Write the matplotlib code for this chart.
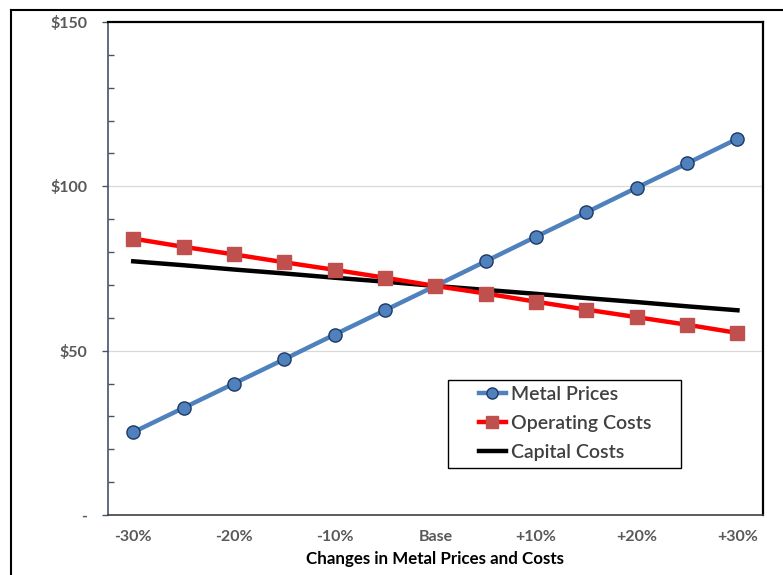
import numpy as np
import matplotlib
matplotlib.use('Agg')
import matplotlib.pyplot as plt
from matplotlib.lines import Line2D
from matplotlib.patches import Rectangle

categories = ['-30%', '-25%', '-20%', '-15%', '-10%', '-5%', 'Base',
              '+5%', '+10%', '+15%', '+20%', '+25%', '+30%']
metal_prices = [25.2, 32.6, 40.0, 47.4, 54.9, 62.3, 69.7, 77.2, 84.7, 92.1, 99.6, 107.0, 114.5]
operating_costs = [84.1, 81.6, 79.3, 76.9, 74.6, 72.2, 69.7, 67.4, 64.9, 62.5, 60.2, 57.9, 55.4]
capital_costs = [77.2, 76.0, 74.7, 73.5, 72.2, 71.0, 69.7, 68.5, 67.3, 66.0, 64.8, 63.5, 62.3]
y_ticks = [0, 50, 100, 150]
y_labels = ['-', '$50', '$100', '$150']

plt.rcParams['font.family'] = ['Lato', 'DejaVu Sans']

fig = plt.figure(figsize=(7.83, 5.75), dpi=100)
ax = fig.add_axes([0.138, 0.1043, 0.836, 0.8574])

x = np.arange(len(categories))
ax.plot(x, metal_prices, color='#4F81BD', lw=3.2, marker='o', ms=9.5,
        mfc='#4F81BD', mec='#1F3864', mew=1.0, label='Metal Prices', zorder=3)
ax.plot(x, operating_costs, color='#FF0000', lw=3.2, marker='s', ms=9.5,
        mfc='#C0504D', mec='#C0504D', label='Operating Costs', zorder=3)
ax.plot(x, capital_costs, color='black', lw=3.2, label='Capital Costs', zorder=2)

ax.set_xlim(-0.5, len(categories) - 0.5)
ax.set_ylim(0, 150)
ax.set_xticks(x[::2])
ax.set_xticklabels(categories[::2])
ax.set_yticks(y_ticks)
ax.set_yticklabels(y_labels)
ax.set_yticks(np.arange(10, 150, 10), minor=True)

for lab in ax.get_xticklabels() + ax.get_yticklabels():
    lab.set_fontweight('bold')
    lab.set_color('#595959')
    lab.set_fontsize(11.5)

ax.tick_params(axis='x', length=0, pad=11)
ax.tick_params(axis='y', which='major', direction='out', length=4, width=1, color='#44546A', pad=11)
ax.tick_params(axis='y', which='minor', direction='in', length=4, width=1, color='#44546A')

for y in [50, 100]:
    ax.axhline(y, color='#D9D9D9', lw=0.9, zorder=0)

ax.spines['top'].set_linewidth(1.6)
ax.spines['right'].set_linewidth(1.6)
ax.spines['top'].set_color('black')
ax.spines['right'].set_color('black')
ax.spines['left'].set_color('#44546A')
ax.spines['bottom'].set_color('#404040')
ax.spines['left'].set_linewidth(1.2)
ax.spines['bottom'].set_linewidth(1.2)

ax.set_xlabel('Changes in Metal Prices and Costs', fontsize=12.2, fontweight='bold',
              color='black', labelpad=5)

# legend box drawn separately (Excel-style padding)
ax.add_patch(Rectangle((0.519, 0.0953), 0.356, 0.1785, transform=ax.transAxes,
                       facecolor='white', edgecolor='black', lw=1.0, zorder=4))
leg = ax.legend(loc='upper left', bbox_to_anchor=(0.566, 0.262),
                prop={'size': 14, 'weight': 'semibold'},
                frameon=False, handlelength=1.4, handletextpad=0.25,
                borderpad=0, borderaxespad=0, labelspacing=0.62)
leg.set_zorder(5)
for h in leg.legend_handles:
    h.set_markersize(8)
for t in leg.get_texts():
    t.set_color('#404040')

# outer chart border
fig.add_artist(Line2D([11 / 783, 11 / 783], [0, 1 - 10 / 575], color='black', lw=1.5))
fig.add_artist(Line2D([11 / 783, 1], [1 - 10 / 575, 1 - 10 / 575], color='black', lw=1.5))

fig.savefig('out.png', dpi=100)
